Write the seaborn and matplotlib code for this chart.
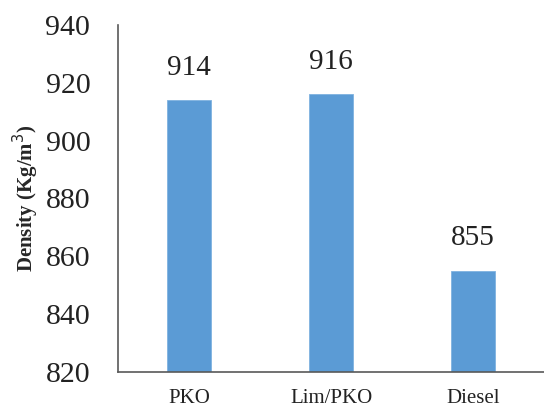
import matplotlib
matplotlib.use("Agg")
import matplotlib.pyplot as plt
import seaborn as sns
import pandas as pd

fuels = ["PKO", "Lim/PKO", "Diesel"]
density = [914, 916, 855]
y_ticks = [820, 840, 860, 880, 900, 920, 940]

sns.set_style("white")
plt.rcParams["font.family"] = ["Liberation Serif", "DejaVu Serif"]

df = pd.DataFrame({"fuel": fuels, "density": density})

fig = plt.figure(figsize=(5.44, 4.08), dpi=100)
ax = fig.add_axes([0.217, 0.088, 0.783, 0.851])

sns.barplot(data=df, x="fuel", y="density", color="#5B9BD5", saturation=1,
            width=0.31, ax=ax, edgecolor="#7FB2E0", linewidth=0.6)

ax.set_ylim(820, 940)
ax.set_xlim(-0.5, 2.5)
ax.set_yticks(y_ticks)
ax.set_yticklabels([str(t) for t in y_ticks], fontsize=21.5)
ax.tick_params(axis="y", length=0, pad=20, colors="#222222")
ax.tick_params(axis="x", length=0, pad=12, labelsize=15, colors="#222222")
ax.set_xlabel("")
ax.set_ylabel("Density (Kg/m$^3$)", fontsize=15, fontweight="bold", labelpad=3)

for side in ["top", "right"]:
    ax.spines[side].set_visible(False)
for side in ["left", "bottom"]:
    ax.spines[side].set_color("#595959")
    ax.spines[side].set_linewidth(1.2)

ax.bar_label(ax.containers[0], labels=[str(v) for v in density],
             padding=14, fontsize=21, color="#222222")

fig.savefig("out.png", dpi=100)
